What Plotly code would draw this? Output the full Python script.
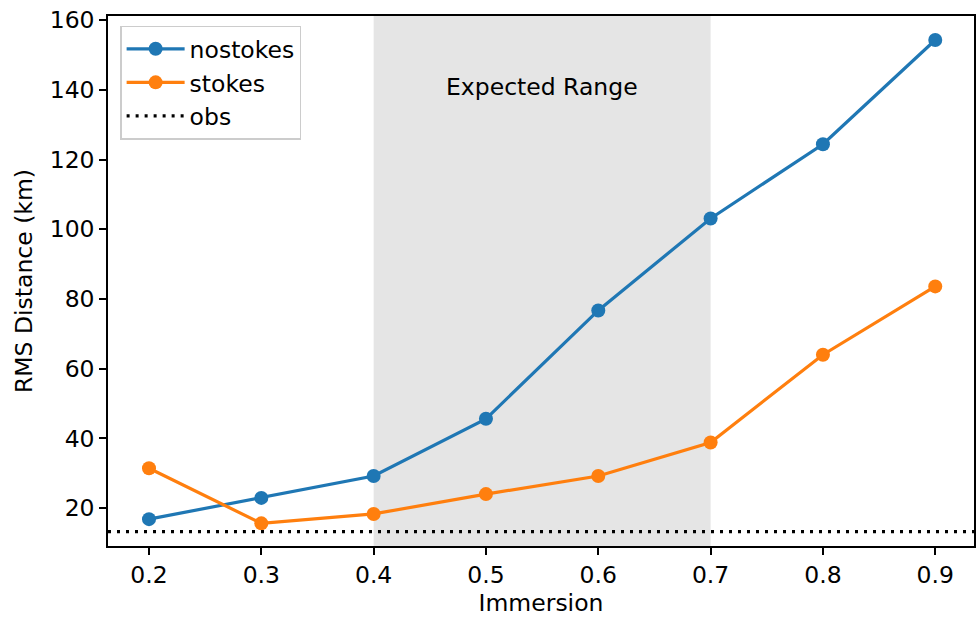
import plotly.graph_objects as go

immersion = [0.2, 0.3, 0.4, 0.5, 0.6, 0.7, 0.8, 0.9]
nostokes = [16.8, 22.9, 29.2, 45.6, 76.7, 103.1, 124.4, 154.3]
stokes = [31.4, 15.6, 18.3, 24.0, 29.2, 38.8, 64.0, 83.6]
obs_value = 13.2
expected_range = [0.4, 0.7]
x_ticks = [0.2, 0.3, 0.4, 0.5, 0.6, 0.7, 0.8, 0.9]
y_ticks = [20, 40, 60, 80, 100, 120, 140, 160]

FONT = "DejaVu Sans"
FS = 23.5

fig = go.Figure()
fig.add_shape(type="rect", xref="x", yref="y domain",
              x0=expected_range[0], x1=expected_range[1], y0=0, y1=1,
              fillcolor="#e5e5e5", line_width=0, layer="below")
fig.add_trace(go.Scatter(x=immersion, y=nostokes, mode="lines+markers", name="nostokes",
                         line=dict(color="#1f77b4", width=3.2),
                         marker=dict(size=14, color="#1f77b4")))
fig.add_trace(go.Scatter(x=immersion, y=stokes, mode="lines+markers", name="stokes",
                         line=dict(color="#ff7f0e", width=3.2),
                         marker=dict(size=14, color="#ff7f0e")))
fig.add_shape(type="line", xref="x domain", yref="y", x0=0, x1=1,
              y0=obs_value, y1=obs_value, name="obs", showlegend=True,
              line=dict(color="black", width=3.2, dash="3px,6px"))
fig.add_annotation(x=sum(expected_range) / 2, y=140.8, xref="x", yref="y",
                   text="Expected Range", showarrow=False,
                   font=dict(family=FONT, size=FS, color="black"))

axis_common = dict(showgrid=False, zeroline=False, showline=True, linecolor="black",
                   linewidth=1.5, mirror=True, ticks="outside", ticklen=7, tickwidth=1.5,
                   tickcolor="black", automargin=False,
                   tickfont=dict(family=FONT, size=FS, color="black"))
fig.update_xaxes(range=[0.1635, 0.9345], tickvals=x_ticks,
                 ticktext=[f"{v:.1f}" for v in x_ticks],
                 title=dict(text="Immersion", font=dict(family=FONT, size=FS, color="black"),
                            standoff=12),
                 **axis_common)
fig.update_yaxes(range=[9.1, 161.2], tickvals=y_ticks,
                 title=dict(text="RMS Distance (km)", font=dict(family=FONT, size=FS, color="black"),
                            standoff=10),
                 **axis_common)
fig.update_layout(
    width=976, height=617,
    margin=dict(l=108, r=2, t=16, b=71),
    plot_bgcolor="white", paper_bgcolor="white",
    font=dict(family=FONT, size=FS, color="black"),
    showlegend=True,
    legend=dict(x=0.014, y=0.982, xanchor="left", yanchor="top",
                bgcolor="rgba(255,255,255,0.8)", bordercolor="#cccccc", borderwidth=1.5,
                font=dict(family=FONT, size=FS, color="black"), itemwidth=58,
                tracegroupgap=0),
)
fig.write_html("out.html", config={"displayModeBar": False},
               post_script="document.body.style.margin='0';document.body.style.padding='0';")
